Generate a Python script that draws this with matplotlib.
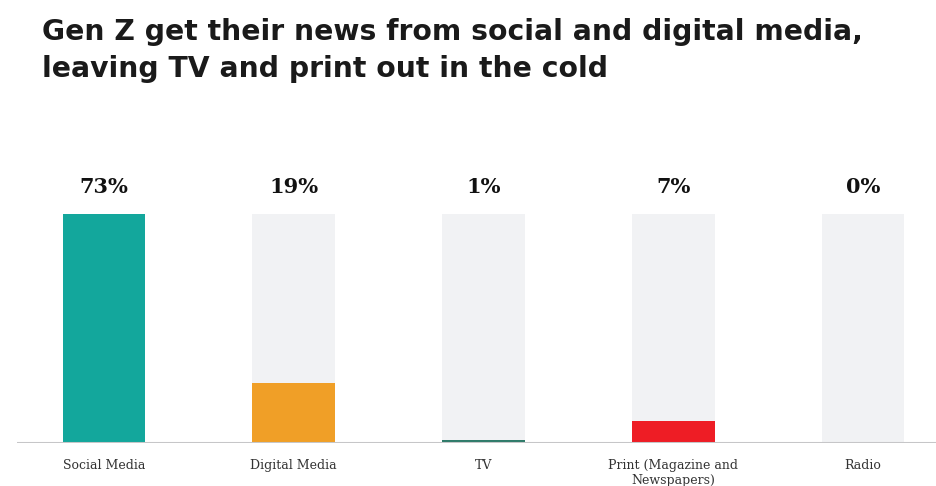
import matplotlib.pyplot as plt

categories = ["Social Media", "Digital Media", "TV", "Print (Magazine and\nNewspapers)", "Radio"]
shares = [73, 19, 1, 7, 0]
share_labels = ["73%", "19%", "1%", "7%", "0%"]
colors = ["#13A79C", "#F09F27", "#2F7B6A", "#EE1D25", "#B0B0B0"]

W, H = 937, 486
fig = plt.figure(figsize=(W / 100, H / 100), dpi=100)
fig.patch.set_facecolor("white")

ax = fig.add_axes([17 / W, 1 - 443 / H, (W - 17) / W, (443 - 214) / H])
x = list(range(len(categories)))
full = max(shares)

ax.bar(x, [full] * len(x), width=0.437, color="#F1F2F4", zorder=1)
ax.bar(x, shares, width=0.437, color=colors, zorder=2)

ax.set_xlim(-0.4585, 4.39)
ax.set_ylim(0, full)
ax.axhline(0, color="#C6C6C8", linewidth=2.2, zorder=3)

for xi, lab in zip(x, share_labels):
    ax.annotate(lab, (xi, full), xytext=(0, 19.5), textcoords="offset points",
                ha="center", va="center", fontsize=15, fontweight="bold",
                family="DejaVu Serif", color="#111111")

for xi, cat in zip(x, categories):
    ax.annotate(cat, (xi, 0), xytext=(0, -11.5), textcoords="offset points",
                ha="center", va="top", fontsize=9, family="DejaVu Serif",
                color="#333333", linespacing=1.2, annotation_clip=False)

for s in ax.spines.values():
    s.set_visible(False)
ax.set_xticks([])
ax.set_yticks([])

fig.text(42 / W, 1 - 32 / H, "Gen Z get their news from social and digital media,",
         ha="left", va="center", fontsize=20.3, fontweight="bold", family="DejaVu Sans",
         color="#1A1A1A")
fig.text(42 / W, 1 - 69 / H, "leaving TV and print out in the cold",
         ha="left", va="center", fontsize=20.3, fontweight="bold", family="DejaVu Sans",
         color="#1A1A1A")

fig.savefig("out.png", dpi=100)
